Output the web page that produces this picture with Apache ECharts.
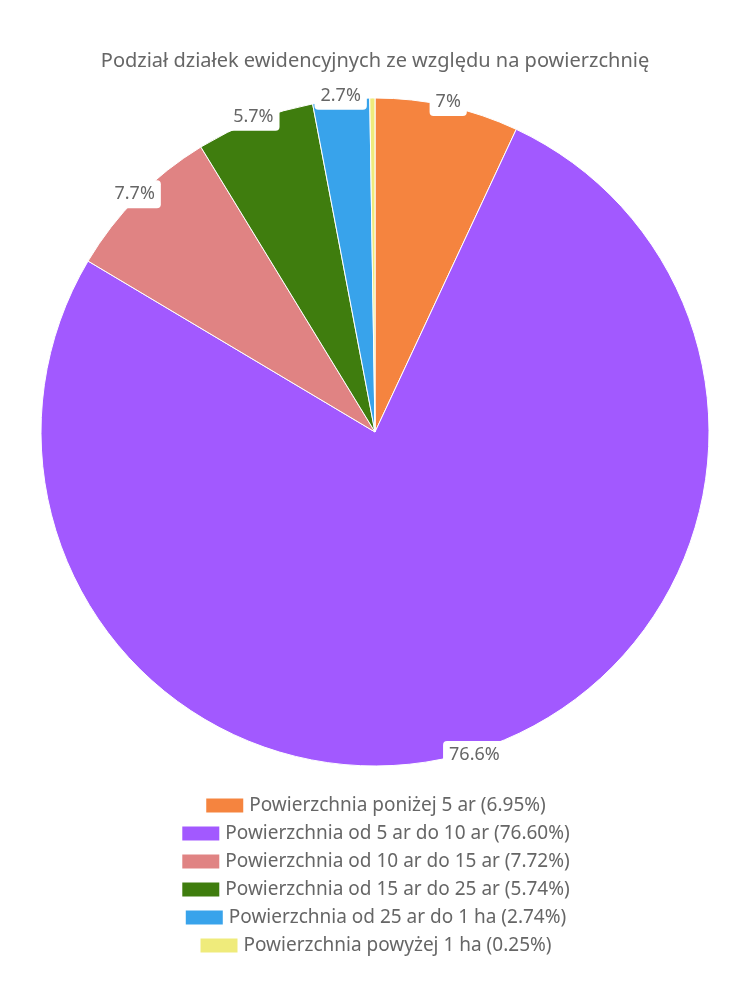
<!DOCTYPE html>
<html>
<head>
<meta charset="utf-8">
<script src="https://cdn.jsdelivr.net/npm/echarts@6/dist/echarts.min.js"></script>
<style>
  html, body { margin: 0; padding: 0; background: #fff; }
  #chart { width: 750px; height: 1000px; }
</style>
</head>
<body>
<div id="chart"></div>
<script>
// dane
const categories = [
  'Powierzchnia poniżej 5 ar',
  'Powierzchnia od 5 ar do 10 ar',
  'Powierzchnia od 10 ar do 15 ar',
  'Powierzchnia od 15 ar do 25 ar',
  'Powierzchnia od 25 ar do 1 ha',
  'Powierzchnia powyżej 1 ha'
];
const shares = [6.95, 76.60, 7.72, 5.74, 2.74, 0.25];
const colors = ['#F5843F', '#A259FF', '#E08383', '#3F7D0E', '#38A3EB', '#EFEB7B'];

const chart = echarts.init(document.getElementById('chart'));
const FONT = '"Noto Sans", sans-serif';

const pieData = categories.map((name, i) => ({
  name: name,
  value: shares[i],
  itemStyle: { color: colors[i] },
}));

// etykiety na krawędzi koła
const labelData = categories.map((name, i) => ({
  name: name,
  value: shares[i],
  label: { show: shares[i] >= 1 },
}));

// jedna legenda na wiersz, żeby każdy wiersz był wyśrodkowany
const legends = categories.map((name, i) => ({
  data: [name],
  orient: 'horizontal',
  left: 'center',
  top: 791 + i * 28,
  itemWidth: 39,
  itemHeight: 16,
  itemGap: 10,
  icon: 'rect',
  selectedMode: false,
  formatter: (n) => `${n} (${shares[i].toFixed(2)}%)`,
  textStyle: { color: '#666', fontSize: 19, fontFamily: FONT },
}));

const option = {
  backgroundColor: '#fff',
  animation: false,
  title: {
    text: 'Podział działek ewidencyjnych ze względu na powierzchnię',
    left: 'center',
    top: 46,
    textStyle: { color: '#666', fontSize: 20, fontWeight: 'normal', fontFamily: FONT },
  },
  legend: legends,
  series: [
    {
      type: 'pie',
      center: [375, 432],
      radius: [0, 334],
      startAngle: 90,
      clockwise: true,
      label: { show: false },
      labelLine: { show: false },
      itemStyle: { borderColor: '#fff', borderWidth: 1 },
      data: pieData,
    },
    {
      type: 'pie',
      center: [375, 432],
      radius: [322, 348],
      startAngle: 90,
      clockwise: true,
      silent: true,
      itemStyle: { color: 'rgba(0,0,0,0)' },
      labelLine: { show: false },
      label: {
        position: 'inside',
        formatter: (p) => `${Math.round(p.value * 10) / 10}%`,
        color: '#666',
        fontSize: 18,
        fontFamily: FONT,
        backgroundColor: '#fff',
        borderRadius: 4,
        padding: [4, 6, 6, 6],
      },
      data: labelData,
    },
  ],
};

chart.setOption(option);
</script>
</body>
</html>
